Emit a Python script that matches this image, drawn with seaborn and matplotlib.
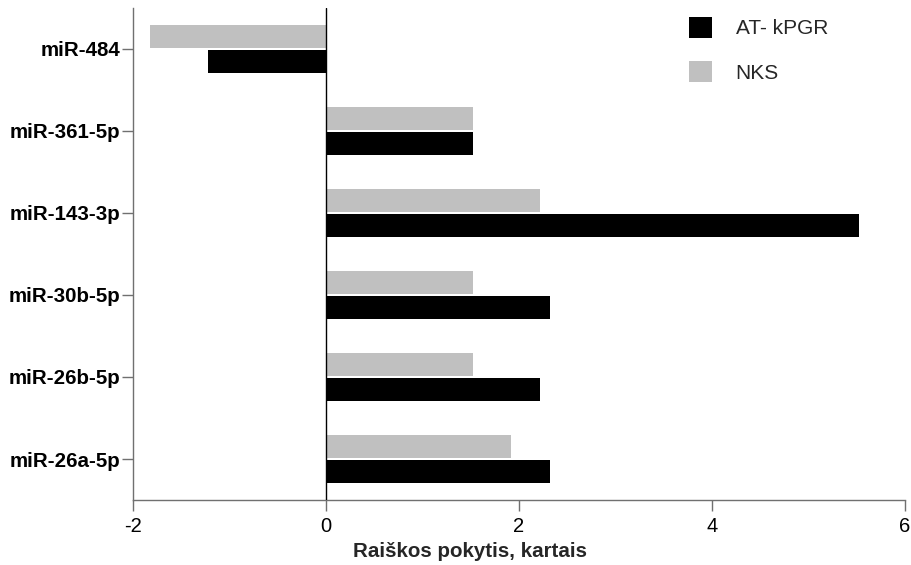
import matplotlib
matplotlib.use("Agg")
import matplotlib.pyplot as plt
import seaborn as sns
import pandas as pd
from matplotlib.patches import Patch

# Fold change of each miRNA in the two groups
mirnas = ["miR-484", "miR-361-5p", "miR-143-3p", "miR-30b-5p", "miR-26b-5p", "miR-26a-5p"]
at_kpgr = [-1.22, 1.52, 5.52, 2.32, 2.22, 2.32]
nks = [-1.82, 1.52, 2.22, 1.52, 1.52, 1.92]
groups = ["NKS", "AT- kPGR"]
x_ticks = [-2, 0, 2, 4, 6]

df = pd.DataFrame({
    "miRNA": mirnas * 2,
    "value": nks + at_kpgr,
    "group": ["NKS"] * len(mirnas) + ["AT- kPGR"] * len(mirnas),
})

sns.set_theme(style="white")
plt.rcParams["font.family"] = ["Liberation Sans", "DejaVu Sans"]

fig = plt.figure(figsize=(9.12, 5.65), dpi=100)
ax = fig.add_axes([0.1458, 0.115, 0.8465, 0.871])

palette = {"NKS": "#c0c0c0", "AT- kPGR": "#000000"}
sns.barplot(data=df, y="miRNA", x="value", hue="group", hue_order=groups,
            order=mirnas, palette=palette, orient="h", width=0.62, gap=0.1,
            saturation=1, legend=False, ax=ax, edgecolor="none")

ax.axvline(0, color="black", lw=1.0, zorder=3)

ax.set_xlim(-2, 6)
ax.set_ylim(5.5, -0.5)
ax.set_xticks(x_ticks)
ax.set_xticklabels([str(t) for t in x_ticks], fontsize=14.5)
ax.set_yticks(range(len(mirnas)))
ax.set_yticklabels(mirnas, fontsize=14.8, fontweight="bold")
ax.set_ylabel("")
ax.set_xlabel("Raiškos pokytis, kartais", fontsize=14.8, fontweight="bold")
ax.xaxis.set_label_coords(0.4365, -0.086)

for side in ("top", "right"):
    ax.spines[side].set_visible(False)
for side in ("left", "bottom"):
    ax.spines[side].set_color("#707070")
    ax.spines[side].set_linewidth(1.0)

ax.tick_params(axis="both", which="major", direction="out", length=8,
               width=1.0, color="#707070", labelcolor="black",
               left=True, bottom=True)
ax.tick_params(axis="y", pad=1)
ax.tick_params(axis="x", pad=4)

handles = [Patch(facecolor="#000000", edgecolor="none", label="AT- kPGR"),
           Patch(facecolor="#c0c0c0", edgecolor="none", label="NKS")]
ax.legend(handles=handles, loc="upper left", bbox_to_anchor=(0.72, 1 - 9 / 492),
          frameon=False, fontsize=15, handlelength=1.1, handleheight=1.15,
          handletextpad=1.15, labelspacing=1.1, borderaxespad=0, borderpad=0)

fig.savefig("out.png", dpi=100)
